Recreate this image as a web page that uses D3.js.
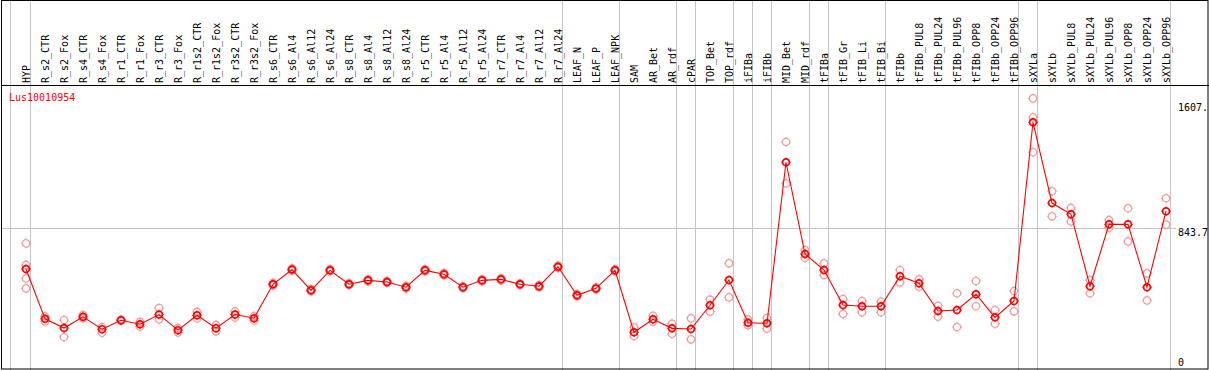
<!DOCTYPE html>
<html>
<head>
<meta charset="utf-8">
<script src="https://cdn.jsdelivr.net/npm/d3@7"></script>
<style>
  body { margin: 0; background: #fff; }
  svg text { font-family: "DejaVu Sans Mono", monospace; font-size: 10px; }
</style>
</head>
<body>
<svg id="chart" width="1209" height="370"></svg>
<script>
const title = "Lus10010954";

const categories = [
  "HYP", "R_s2_CTR", "R_s2_Fox", "R_s4_CTR", "R_s4_Fox", "R_r1_CTR", "R_r1_Fox",
  "R_r3_CTR", "R_r3_Fox", "R_r1s2_CTR", "R_r1s2_Fox", "R_r3s2_CTR", "R_r3s2_Fox",
  "R_s6_CTR", "R_s6_Al4", "R_s6_Al12", "R_s6_Al24", "R_s8_CTR", "R_s8_Al4", "R_s8_Al12",
  "R_s8_Al24", "R_r5_CTR", "R_r5_Al4", "R_r5_Al12", "R_r5_Al24", "R_r7_CTR", "R_r7_Al4",
  "R_r7_Al12", "R_r7_Al24", "LEAF_N", "LEAF_P", "LEAF_NPK", "SAM", "AR_Bet", "AR_rdf",
  "cPAR", "TOP_Bet", "TOP_rdf", "iFIBa", "iFIBb", "MID_Bet", "MID_rdf", "tFIBa",
  "tFIB_Gr", "tFIB_Li", "tFIB_Bi", "tFIBb", "tFIBb_PUL8", "tFIBb_PUL24", "tFIBb_PUL96",
  "tFIBb_OPP8", "tFIBb_OPP24", "tFIBb_OPP96", "sXYLa", "sXYLb", "sXYLb_PUL8",
  "sXYLb_PUL24", "sXYLb_PUL96", "sXYLb_OPP8", "sXYLb_OPP24", "sXYLb_OPP96"
];

// mean expression per sample
const means = [
  595, 291, 235, 303, 228, 282, 258, 317, 222, 313, 234, 317, 295,
  502, 592, 465, 587, 502, 526, 516, 484, 587, 563, 484, 526, 532, 502, 490, 609,
  435, 477, 587, 209, 288, 233, 229, 374, 528, 267, 264, 1247, 687, 589,
  375, 368, 368, 551, 508, 339, 345, 441, 300, 400, 1491, 998, 929,
  490, 868, 868, 484, 948
];

// replicate values per sample
const replicates = [
  [752, 620, 538, 477], [305, 275], [284, 180], [314, 293], [241, 206], [287, 278], [272, 244],
  [357, 288], [235, 208], [333, 293], [253, 214], [336, 299], [308, 281],
  [510, 494], [600, 585], [472, 458], [595, 580], [508, 496], [532, 520], [522, 510],
  [492, 476], [594, 580], [570, 556], [490, 478], [532, 520], [538, 526], [508, 496],
  [497, 483], [616, 602], [442, 428], [484, 470], [594, 580], [239, 186], [310, 274], [261, 200],
  [294, 166], [408, 335], [630, 422], [288, 253], [296, 231], [1371, 1118], [711, 664], [630, 559],
  [412, 321], [400, 331], [396, 331], [589, 514], [532, 487], [371, 304], [447, 241],
  [522, 368], [345, 261], [461, 337], [1637, 1521, 1308], [1070, 917], [968, 886],
  [528, 447], [894, 847], [966, 764], [569, 404], [1027, 866]
];

// group separators are drawn after these samples
const groupEnds = ["HYP", "R_r7_Al24", "LEAF_NPK", "AR_rdf", "cPAR", "TOP_rdf", "iFIBa",
  "iFIBb", "MID_rdf", "tFIBa", "tFIB_Bi", "tFIBb_OPP96", "sXYLa", "sXYLb_OPP96"];

const yTicks = [0, 843.7, 1607];
const yTickLabels = ["0", "843.7", "1607."];
const gridTicks = [843.7];

const W = 1209, H = 370;
const headerBottom = 85.5;

const svg = d3.select("#chart");

const x = d3.scalePoint()
    .domain(categories)
    .range([26, 1166]);

const y = d3.scaleLinear()
    .domain([0, 1607])
    .range([366.5, 103.3]);

// grey separators
svg.append("g")
    .selectAll("line")
    .data([null].concat(groupEnds))
    .join("line")
    .attr("x1", d => d == null ? 10.5 : Math.round(x(d) + 4.4) + 0.5)
    .attr("x2", d => d == null ? 10.5 : Math.round(x(d) + 4.4) + 0.5)
    .attr("y1", 0)
    .attr("y2", H)
    .attr("stroke", "#c4c4c4")
    .attr("stroke-width", 1);

// horizontal grid
svg.append("g")
    .selectAll("line")
    .data(gridTicks)
    .join("line")
    .attr("x1", 1)
    .attr("x2", 1176)
    .attr("y1", d => Math.round(y(d)) + 0.5)
    .attr("y2", d => Math.round(y(d)) + 0.5)
    .attr("stroke", "#c4c4c4");

// frame
svg.append("rect")
    .attr("x", 1.5).attr("y", 0.5)
    .attr("width", W - 2.5).attr("height", H - 1.5)
    .attr("fill", "none")
    .attr("stroke", "#000");

svg.append("line")
    .attr("x1", 1).attr("x2", W)
    .attr("y1", headerBottom).attr("y2", headerBottom)
    .attr("stroke", "#000");

// sample labels
svg.append("g")
    .selectAll("text")
    .data(categories)
    .join("text")
    .attr("transform", d => `translate(${x(d)},83) rotate(-90)`)
    .attr("dy", "0.36em")
    .attr("fill", "#000")
    .text(d => d);

// y labels
svg.append("g")
    .selectAll("text")
    .data(yTicks)
    .join("text")
    .attr("x", 1178)
    .attr("y", d => Math.min(y(d) + 7.4, 365.5))
    .attr("fill", "#000")
    .text((d, i) => yTickLabels[i]);

svg.append("text")
    .attr("x", 9)
    .attr("y", 100.5)
    .attr("fill", "#ff0000")
    .text(title);

function marker(g, color, r, sw) {
    g.append("circle")
        .attr("r", r)
        .attr("fill", "none")
        .attr("stroke", color)
        .attr("stroke-width", sw);
    [[0, -1], [0, 1], [-1, 0], [1, 0]].forEach(([dx, dy]) => {
        g.append("line")
            .attr("x1", dx * r).attr("y1", dy * r)
            .attr("x2", dx * (r + 1.4)).attr("y2", dy * (r + 1.4))
            .attr("stroke", color)
            .attr("stroke-width", 0.9);
    });
}

// replicate points
const repData = [];
replicates.forEach((vals, i) => vals.forEach(v => repData.push({cat: categories[i], v: v})));

svg.append("g")
    .selectAll("g")
    .data(repData)
    .join("g")
    .attr("transform", d => `translate(${x(d.cat)},${y(d.v)})`)
    .each(function () { marker(d3.select(this), "#f0a0a0", 3.7, 1.3); });

// mean line
const line = d3.line()
    .x((d, i) => x(categories[i]))
    .y(d => y(d));

svg.append("path")
    .datum(means)
    .attr("d", line)
    .attr("fill", "none")
    .attr("stroke", "#ff0000")
    .attr("stroke-width", 1.1);

svg.append("g")
    .selectAll("g")
    .data(means)
    .join("g")
    .attr("transform", (d, i) => `translate(${x(categories[i])},${y(d)})`)
    .each(function () { marker(d3.select(this), "#ff0000", 3.4, 1.7); });
</script>
</body>
</html>
